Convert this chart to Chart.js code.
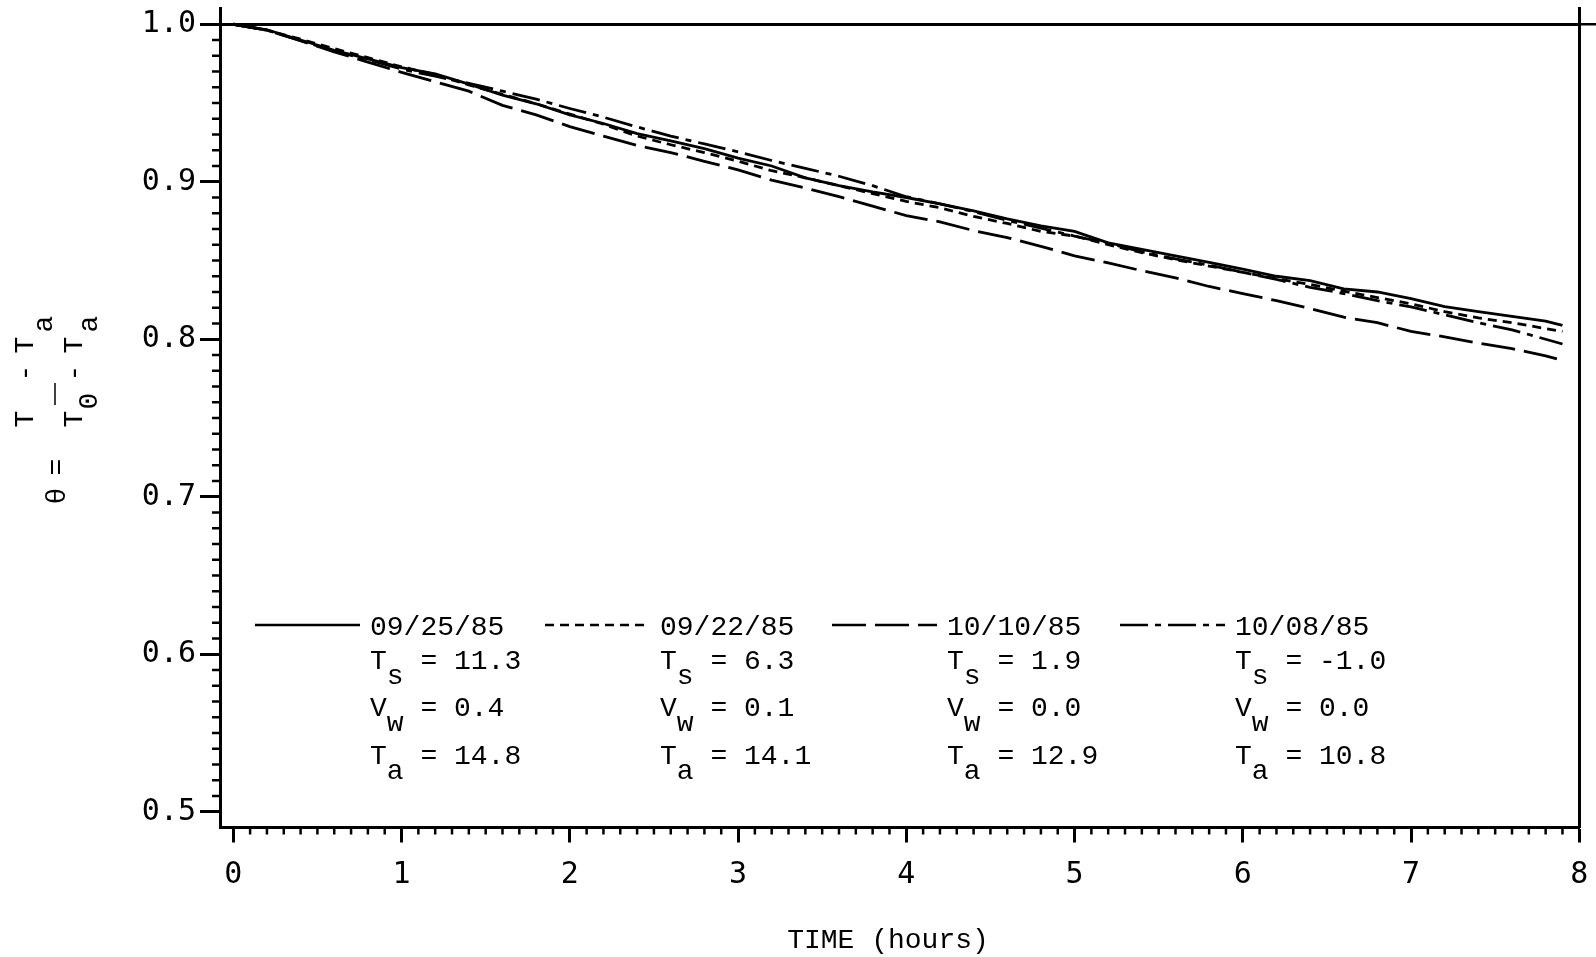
<!DOCTYPE html>
<html>
<head>
<meta charset="utf-8">
<script src="https://cdn.jsdelivr.net/npm/chart.js@4.4.0/dist/chart.umd.min.js"></script>
<style>
  html, body { margin: 0; padding: 0; background: #fff; }
  #wrap { width: 1596px; height: 957px; }
</style>
</head>
<body>
<div id="wrap"><canvas id="coolingChart"></canvas></div>
<script>
// time axis (hours) shared by all runs
const hours = [0, 0.2, 0.4, 0.6, 0.8, 1.0, 1.2, 1.4, 1.6, 1.8, 2.0, 2.2, 2.4, 2.6, 2.8, 3.0, 3.2, 3.4, 3.6, 3.8,
  4.0, 4.2, 4.4, 4.6, 4.8, 5.0, 5.2, 5.4, 5.6, 5.8, 6.0, 6.2, 6.4, 6.6, 6.8, 7.0, 7.2, 7.4, 7.6, 7.8, 7.9];

// theta = (T - Ta) / (T0 - Ta) for each run
const run0925 = [1.000, 0.9965, 0.9900, 0.9835, 0.9780, 0.9725, 0.9685, 0.9620, 0.9550, 0.9495, 0.9425, 0.9370, 0.9305, 0.9260, 0.9210, 0.9150, 0.9100, 0.9025, 0.8975, 0.8935,
  0.8900, 0.8860, 0.8815, 0.8765, 0.8720, 0.8685, 0.8612, 0.8570, 0.8530, 0.8488, 0.8445, 0.8400, 0.8372, 0.8320, 0.8300, 0.8258, 0.8207, 0.8175, 0.8145, 0.8115, 0.8088];
const run0922 = [1.000, 0.9962, 0.9905, 0.9845, 0.9788, 0.9730, 0.9680, 0.9615, 0.9555, 0.9495, 0.9430, 0.9365, 0.9290, 0.9235, 0.9185, 0.9130, 0.9070, 0.9025, 0.8975, 0.8925,
  0.8875, 0.8835, 0.8780, 0.8735, 0.8685, 0.8655, 0.8600, 0.8550, 0.8505, 0.8465, 0.8425, 0.8385, 0.8348, 0.8305, 0.8265, 0.8225, 0.8175, 0.8135, 0.8105, 0.8068, 0.8050];
const run1010 = [1.000, 0.9962, 0.9895, 0.9825, 0.9760, 0.9695, 0.9635, 0.9575, 0.9485, 0.9425, 0.9350, 0.9290, 0.9230, 0.9185, 0.9130, 0.9075, 0.9010, 0.8960, 0.8905, 0.8845,
  0.8785, 0.8745, 0.8690, 0.8645, 0.8590, 0.8530, 0.8485, 0.8435, 0.8390, 0.8335, 0.8290, 0.8245, 0.8195, 0.8140, 0.8105, 0.8050, 0.8015, 0.7975, 0.7940, 0.7895, 0.7865];
const run1008 = [1.000, 0.9963, 0.9895, 0.9830, 0.9775, 0.9715, 0.9670, 0.9625, 0.9575, 0.9525, 0.9465, 0.9410, 0.9348, 0.9290, 0.9240, 0.9190, 0.9135, 0.9085, 0.9035, 0.8975,
  0.8905, 0.8860, 0.8810, 0.8755, 0.8705, 0.8655, 0.8610, 0.8555, 0.8510, 0.8470, 0.8425, 0.8380, 0.8330, 0.8290, 0.8245, 0.8205, 0.8155, 0.8105, 0.8060, 0.8000, 0.7970];

// legend entries
const runDates = ['09/25/85', '09/22/85', '10/10/85', '10/08/85'];
const runTs = ['11.3', '6.3', '1.9', '-1.0'];
const runVw = ['0.4', '0.1', '0.0', '0.0'];
const runTa = ['14.8', '14.1', '12.9', '10.8'];

// tick labels
const xTicks = [0, 1, 2, 3, 4, 5, 6, 7, 8];
const yTicks = [0.5, 0.6, 0.7, 0.8, 0.9, 1.0];

const typeFont = '28px "Liberation Mono", "DejaVu Sans Mono", monospace';

function pts(vals) {
  return hours.map((h, i) => ({ x: h, y: vals[i] }));
}

// keep the plot box where the reference has it
function noPad(s) {
  s.paddingTop = 0;
  s.paddingBottom = 0;
  s.paddingLeft = 0;
  s.paddingRight = 0;
}

// minor ticks + frame pieces the axes don't draw
const minorTicks = {
  id: 'minorTicks',
  afterDraw(chart) {
    const { ctx, scales: { x, y } } = chart;
    ctx.save();
    ctx.strokeStyle = '#000';
    ctx.lineWidth = 2.5;
    ctx.beginPath();
    for (let i = 1; i < 80; i++) {
      if (i % 10 === 0) continue;
      const px = x.getPixelForValue(i / 10);
      ctx.moveTo(px, x.top);
      ctx.lineTo(px, x.top + 7);
    }
    for (let j = 51; j < 100; j++) {
      if (j % 10 === 0) continue;
      const py = y.getPixelForValue(j / 100);
      ctx.moveTo(y.right, py);
      ctx.lineTo(y.right - 8, py);
    }
    // top line runs on past the right frame
    const top = y.getPixelForValue(1.0);
    ctx.moveTo(chart.chartArea.right, top);
    ctx.lineTo(chart.width, top);
    ctx.stroke();
    ctx.restore();
  }
};

// legend block inside the plot
const runLegend = {
  id: 'runLegend',
  afterDraw(chart) {
    const { ctx } = chart;
    const cols = [370, 660, 947, 1235];
    const rows = [635, 669, 716, 764];
    ctx.save();
    ctx.font = typeFont;
    ctx.fillStyle = '#000';
    ctx.textAlign = 'left';
    ctx.textBaseline = 'alphabetic';
    const pitch = ctx.measureText('0').width;
    chart.data.datasets.forEach((ds, i) => {
      const x = cols[i];
      ctx.save();
      ctx.strokeStyle = '#000';
      ctx.lineWidth = 2.5;
      ctx.setLineDash(ds.borderDash || []);
      ctx.beginPath();
      ctx.moveTo(x - 115, 625);
      ctx.lineTo(x - 10, 625);
      ctx.stroke();
      ctx.restore();
      ctx.fillText(runDates[i], x, rows[0]);
      const lines = [['T', 's', runTs[i]], ['V', 'w', runVw[i]], ['T', 'a', runTa[i]]];
      lines.forEach((l, k) => {
        const by = rows[k + 1];
        ctx.fillText(l[0], x, by);
        ctx.fillText(l[1], x + pitch, by + 15);
        ctx.fillText('= ' + l[2], x + 3 * pitch, by);
      });
    });
    // x axis title
    ctx.textAlign = 'center';
    ctx.fillText('TIME (hours)', 888, 948);
    ctx.restore();
  }
};

// rotated y axis title: theta = (T - Ta) / (T0 - Ta)
const thetaTitle = {
  id: 'thetaTitle',
  afterDraw(chart) {
    const { ctx } = chart;
    const glyphs = [
      ['\u03B8', 65, 496], ['=', 65, 467],
      ['T', 33, 419], ['-', 33, 373], ['T', 33, 345], ['a', 52, 324],
      ['T', 82, 419], ['0', 97, 401], ['-', 82, 373], ['T', 82, 345], ['a', 97, 324]
    ];
    ctx.save();
    ctx.font = typeFont;
    ctx.fillStyle = '#000';
    ctx.textAlign = 'center';
    ctx.textBaseline = 'alphabetic';
    glyphs.forEach(([ch, bx, cy]) => {
      ctx.save();
      ctx.translate(bx, cy);
      ctx.rotate(-Math.PI / 2);
      ctx.fillText(ch, 0, 0);
      ctx.restore();
    });
    // fraction bar
    ctx.strokeStyle = '#000';
    ctx.lineWidth = 1.5;
    ctx.beginPath();
    ctx.moveTo(55, 383);
    ctx.lineTo(55, 405);
    ctx.stroke();
    ctx.restore();
  }
};

const ctx = document.getElementById('coolingChart').getContext('2d');
new Chart(ctx, {
  type: 'line',
  data: {
    datasets: [
      { label: runDates[0], data: pts(run0925), borderDash: [] },
      { label: runDates[1], data: pts(run0922), borderDash: [9, 6] },
      { label: runDates[2], data: pts(run1010), borderDash: [34, 9] },
      { label: runDates[3], data: pts(run1008), borderDash: [28, 7, 6, 7] }
    ].map(ds => Object.assign(ds, {
      borderColor: '#000',
      borderWidth: 2.8,
      pointRadius: 0,
      fill: false,
      tension: 0
    }))
  },
  options: {
    responsive: true,
    maintainAspectRatio: false,
    animation: false,
    layout: { padding: { top: 8.5, right: 16.7, left: 0, bottom: 0 } },
    plugins: {
      legend: { display: false },
      tooltip: { enabled: false }
    },
    scales: {
      x: {
        type: 'linear',
        min: -0.079,
        max: 8,
        afterBuildTicks: s => { s.ticks = xTicks.map(v => ({ value: v })); },
        afterFit: s => { s.height = 129.5; noPad(s); },
        ticks: {
          color: '#000',
          font: { family: 'DejaVu Sans Mono', size: 30 },
          padding: 15,
          maxRotation: 0,
          autoSkip: false,
          callback: v => String(v)
        },
        grid: { drawOnChartArea: false, tickLength: 15, tickWidth: 3, tickColor: '#000' },
        border: { display: true, color: '#000', width: 3 }
      },
      y: {
        min: 0.49,
        max: 1.01,
        afterBuildTicks: s => { s.ticks = yTicks.map(v => ({ value: v })); },
        afterFit: s => { s.width = 220; noPad(s); },
        ticks: {
          color: '#000',
          font: { family: 'DejaVu Sans Mono', size: 30 },
          padding: 4,
          callback: v => v.toFixed(1)
        },
        grid: {
          color: c => (c.tick && c.tick.value === 1.0 ? '#000' : 'rgba(0,0,0,0)'),
          lineWidth: 3,
          tickLength: 20,
          tickWidth: 3,
          tickColor: '#000'
        },
        border: { display: true, color: '#000', width: 3 }
      },
      y2: {
        position: 'right',
        min: 0.49,
        max: 1.01,
        afterFit: s => { s.width = 0; noPad(s); },
        ticks: { display: false },
        grid: { display: false },
        border: { display: true, color: '#000', width: 3 }
      }
    }
  },
  plugins: [minorTicks, runLegend, thetaTitle]
});
</script>
</body>
</html>
